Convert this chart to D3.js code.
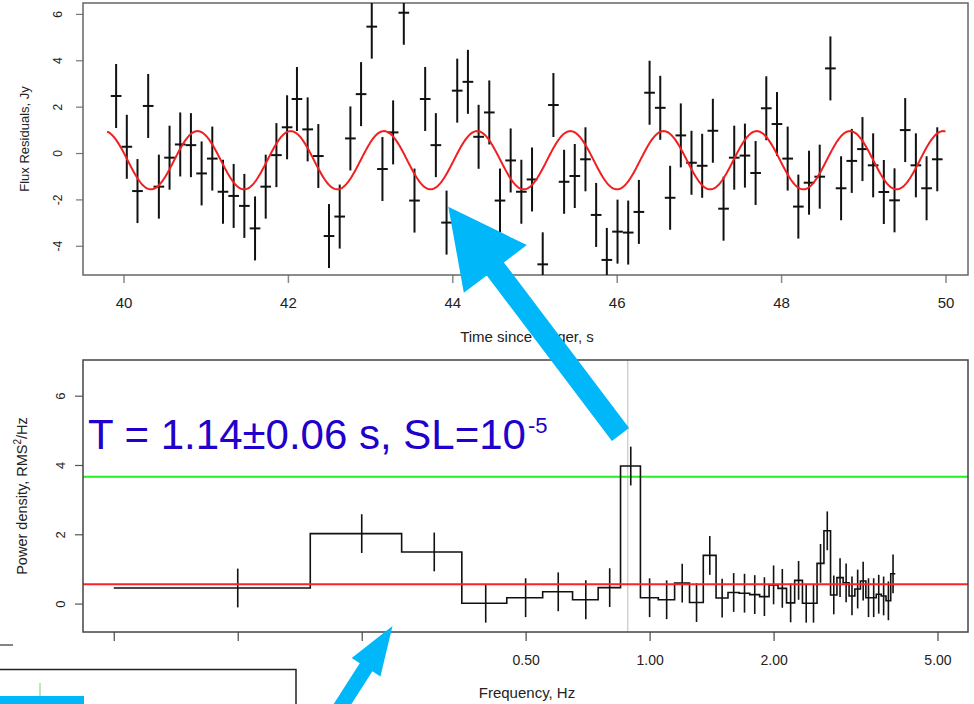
<!DOCTYPE html>
<html>
<head>
<meta charset="utf-8">
<script src="https://cdn.jsdelivr.net/npm/d3@7"></script>
<style>
  body { margin: 0; background: #fff; }
  svg { display: block; font-family: "Liberation Sans", Arial, sans-serif; }
</style>
</head>
<body>
<div id="chart"></div>
<script>
// top panel: flux residuals with error bars
const times = [39.91, 40.04, 40.17, 40.30, 40.43, 40.56, 40.69, 40.82, 40.95, 41.08,
  41.21, 41.34, 41.47, 41.60, 41.73, 41.86, 41.99, 42.11, 42.24, 42.37,
  42.50, 42.63, 42.76, 42.89, 43.02, 43.15, 43.28, 43.41, 43.54, 43.67,
  43.80, 43.93, 44.06, 44.19, 44.32, 44.45, 44.58, 44.71, 44.84, 44.97,
  45.10, 45.23, 45.36, 45.49, 45.62, 45.75, 45.88, 46.01, 46.14, 46.27,
  46.40, 46.53, 46.65, 46.78, 46.91, 47.04, 47.17, 47.30, 47.43, 47.56,
  47.69, 47.82, 47.95, 48.08, 48.21, 48.34, 48.47, 48.60, 48.73, 48.86,
  48.99, 49.12, 49.25, 49.38, 49.51, 49.64, 49.77, 49.90];
const flux = [2.46, 0.27, -1.64, 2.03, -1.45, -0.20, 0.37, 0.34, -0.88, -0.24,
  -1.67, -1.85, -2.28, -3.25, -1.45, -0.09, 1.11, 2.33, 1.02, -0.13,
  -3.58, -2.74, 0.63, 2.54, 5.45, -0.69, 0.89, 6.05, -2.05, 2.33,
  0.34, -3.00, 2.69, 3.07, 0.70, 1.75, -2.05, -0.32, -1.67, -1.14,
  -4.80, 2.07, -1.24, -0.99, -0.27, -2.67, -4.61, -3.39, -3.43, -2.54,
  2.60, 1.95, -1.93, 0.76, -0.42, -0.55, 0.96, -2.40, -0.20, -0.11,
  -0.86, 1.93, 1.25, -0.24, -2.31, -1.28, -1.02, 3.65, -1.52, -0.34,
  0.17, -0.53, -1.68, -2.04, 0.99, -0.53, -1.52, -0.27];
const fluxErr = 1.38;
const timeHalfBin = 0.065;
const timeTicks = [40, 42, 44, 46, 48, 50];
const fluxTicks = [-4, -2, 0, 2, 4, 6];

// fitted sine model (red curve)
const fitPeriod = 1.134, fitPeak = 40.90, fitAmp = 1.255, fitMean = -0.31;
const fitStart = 39.80, fitEnd = 50.0;

// bottom panel: power spectrum
const freqs = [0.1, 0.2, 0.3, 0.4, 0.5, 0.6, 0.7, 0.8, 0.9, 1.0,
  1.1, 1.2, 1.3, 1.4, 1.5, 1.6, 1.7, 1.8, 1.9, 2.0,
  2.1, 2.2, 2.3, 2.4, 2.5, 2.6, 2.7, 2.8, 2.9, 3.0,
  3.1, 3.2, 3.3, 3.4, 3.5, 3.6, 3.7, 3.8, 3.9];
const power = [0.45, 2.02, 1.49, 0.01, 0.17, 0.34, 0.11, 0.46, 3.97, 0.17,
  0.11, 0.59, 0.03, 1.39, 0.16, 0.32, 0.30, 0.26, 0.20, 0.54,
  0.44, 0.02, 0.67, 0.01, 0.01, 1.16, 2.10, 0.25, 0.75, 0.60,
  0.22, 0.42, 0.65, 0.17, 0.17, 0.27, 0.22, 0.08, 0.86];
const powerErr = 0.56;
const freqHalfBin = 0.05;
const detectLevel = 3.66, meanLevel = 0.56, peakFreq = 0.885;
const freqTicks = [0.05, 0.1, 0.2, 0.5, 1, 2, 5];
const freqLabels = [0.5, 1, 2, 5];
const powerTicks = [0, 2, 4, 6];

const svg = d3.select("#chart").append("svg")
    .attr("width", 974)
    .attr("height", 704);

const defs = svg.append("defs");

// ---------- top panel ----------
const p1 = {left: 83, right: 968, top: 3, bottom: 275};
const x1 = d3.scaleLinear().domain([39.507, 50.274]).range([p1.left, p1.right]);
const y1 = d3.scaleLinear().domain([-5.26, 6.47]).range([p1.bottom, p1.top]);

defs.append("clipPath").attr("id", "clip1")
  .append("rect")
    .attr("x", p1.left).attr("y", p1.top)
    .attr("width", p1.right - p1.left).attr("height", p1.bottom - p1.top);

svg.append("g")
    .attr("transform", `translate(0,${p1.bottom})`)
    .call(d3.axisBottom(x1).tickValues(timeTicks).tickSize(8).tickFormat(d => String(d)))
    .call(g => g.select(".domain").remove())
    .call(g => g.attr("font-size", null).attr("font-family", null))
    .call(g => g.selectAll("line").attr("stroke", "#888").attr("stroke-width", 1.5))
    .call(g => g.selectAll("text")
        .attr("y", 22)
        .attr("fill", "#222")
        .style("font-family", "'Liberation Sans Narrow', 'Liberation Sans', sans-serif")
        .style("font-size", "15px"));

svg.append("g")
    .attr("transform", `translate(${p1.left},0)`)
    .call(d3.axisLeft(y1).tickValues(fluxTicks).tickSize(7).tickFormat(d => String(d)))
    .call(g => g.select(".domain").remove())
    .call(g => g.attr("font-size", null).attr("font-family", null))
    .call(g => g.selectAll("line").attr("stroke", "#777").attr("stroke-width", 1.2))
    .call(g => g.selectAll("text")
        .attr("x", null).attr("dy", null)
        .attr("text-anchor", "middle")
        .attr("transform", "translate(-21,0) rotate(-90)")
        .attr("fill", "#222")
        .style("font-size", "12px"));

svg.append("rect")
    .attr("x", p1.left).attr("y", p1.top)
    .attr("width", p1.right - p1.left).attr("height", p1.bottom - p1.top)
    .attr("fill", "none").attr("stroke", "#666").attr("stroke-width", 1.5);

const topG = svg.append("g").attr("clip-path", "url(#clip1)");

const pts = times.map((t, i) => ({t: t, v: flux[i]}));

topG.selectAll(".ev")
  .data(pts)
  .join("line")
    .attr("x1", d => x1(d.t)).attr("x2", d => x1(d.t))
    .attr("y1", d => y1(d.v - fluxErr)).attr("y2", d => y1(d.v + fluxErr))
    .attr("stroke", "#111").attr("stroke-width", 2);

topG.selectAll(".eh")
  .data(pts)
  .join("line")
    .attr("x1", d => x1(d.t - timeHalfBin)).attr("x2", d => x1(d.t + timeHalfBin))
    .attr("y1", d => y1(d.v)).attr("y2", d => y1(d.v))
    .attr("stroke", "#111").attr("stroke-width", 2);

const model = d3.range(fitStart, fitEnd + 0.001, 0.01)
  .map(t => [t, fitMean + fitAmp * Math.cos(2 * Math.PI * (t - fitPeak) / fitPeriod)]);

topG.append("path")
    .datum(model)
    .attr("d", d3.line().x(d => x1(d[0])).y(d => y1(d[1])))
    .attr("fill", "none").attr("stroke", "#f02020").attr("stroke-width", 2);

svg.append("text")
    .attr("x", 527).attr("y", 342)
    .attr("text-anchor", "middle")
    .attr("fill", "#222")
    .style("font-family", "'Liberation Sans Narrow', 'Liberation Sans', sans-serif")
    .style("font-size", "15px")
    .text("Time since trigger, s");

svg.append("text")
    .attr("transform", "translate(29,139) rotate(-90)")
    .attr("text-anchor", "middle")
    .attr("fill", "#222")
    .style("font-size", "13px")
    .text("Flux Residuals, Jy");

// ---------- bottom panel ----------
const p2 = {left: 83, right: 968, top: 360, bottom: 632};
const x2 = d3.scaleLog().domain([0.0421, 5.93]).range([p2.left, p2.right]);
const y2 = d3.scaleLinear().domain([-0.82, 7.03]).range([p2.bottom, p2.top]);

defs.append("clipPath").attr("id", "clip2")
  .append("rect")
    .attr("x", p2.left).attr("y", p2.top)
    .attr("width", p2.right - p2.left).attr("height", p2.bottom - p2.top);

svg.append("g")
    .attr("transform", `translate(0,${p2.bottom})`)
    .call(d3.axisBottom(x2).tickValues(freqTicks).tickSize(9)
        .tickFormat(d => freqLabels.includes(d) ? d3.format(".2f")(d) : ""))
    .call(g => g.select(".domain").remove())
    .call(g => g.attr("font-size", null).attr("font-family", null))
    .call(g => g.selectAll("line").attr("stroke", "#555").attr("stroke-width", 1.3))
    .call(g => g.selectAll("text")
        .attr("y", 23)
        .attr("fill", "#222")
        .style("font-size", "14px"));

svg.append("g")
    .attr("transform", `translate(${p2.left},0)`)
    .call(d3.axisLeft(y2).tickValues(powerTicks).tickSize(8).tickFormat(d => String(d)))
    .call(g => g.select(".domain").remove())
    .call(g => g.attr("font-size", null).attr("font-family", null))
    .call(g => g.selectAll("line").attr("stroke", "#555").attr("stroke-width", 1.2))
    .call(g => g.selectAll("text")
        .attr("x", null).attr("dy", null)
        .attr("text-anchor", "middle")
        .attr("transform", "translate(-18,0) rotate(-90)")
        .attr("fill", "#222")
        .style("font-size", "13px"));

const botG = svg.append("g").attr("clip-path", "url(#clip2)");

botG.append("line")
    .attr("x1", x2(peakFreq)).attr("x2", x2(peakFreq))
    .attr("y1", p2.top).attr("y2", p2.bottom)
    .attr("stroke", "#c8c8c8").attr("stroke-width", 1.2);

botG.append("line")
    .attr("x1", p2.left).attr("x2", p2.right)
    .attr("y1", y2(detectLevel)).attr("y2", y2(detectLevel))
    .attr("stroke", "#22ee22").attr("stroke-width", 2);

const bins = freqs.map((f, i) => ({f: f, p: power[i]}));
const stepPts = bins.map(d => [d.f - freqHalfBin, d.p]);
stepPts.push([bins[bins.length - 1].f + freqHalfBin, bins[bins.length - 1].p]);

botG.append("path")
    .datum(stepPts)
    .attr("d", d3.line().x(d => x2(d[0])).y(d => y2(d[1])).curve(d3.curveStepAfter))
    .attr("fill", "none").attr("stroke", "#111").attr("stroke-width", 1.6);

botG.selectAll(".pe")
  .data(bins)
  .join("line")
    .attr("x1", d => x2(d.f)).attr("x2", d => x2(d.f))
    .attr("y1", d => y2(d.p - powerErr)).attr("y2", d => y2(d.p + powerErr))
    .attr("stroke", "#111").attr("stroke-width", 1.6);

botG.append("line")
    .attr("x1", p2.left).attr("x2", p2.right)
    .attr("y1", y2(meanLevel)).attr("y2", y2(meanLevel))
    .attr("stroke", "#f22").attr("stroke-width", 2);

svg.append("rect")
    .attr("x", p2.left).attr("y", p2.top)
    .attr("width", p2.right - p2.left).attr("height", p2.bottom - p2.top)
    .attr("fill", "none").attr("stroke", "#444").attr("stroke-width", 1.5);

svg.append("text")
    .attr("x", 527).attr("y", 698)
    .attr("text-anchor", "middle")
    .attr("fill", "#222")
    .style("font-size", "15px")
    .text("Frequency, Hz");

const ylab = svg.append("text")
    .attr("transform", "translate(27,496) rotate(-90)")
    .attr("text-anchor", "middle")
    .attr("fill", "#222")
    .style("font-size", "14.5px");
ylab.append("tspan").text("Power density, RMS");
ylab.append("tspan").attr("dy", -6).style("font-size", "10px").text("2");
ylab.append("tspan").attr("dy", 6).text("/Hz");

// ---------- annotations ----------
const note = svg.append("text")
    .attr("x", 88).attr("y", 449)
    .attr("fill", "#2200cc")
    .style("font-size", "42px");
note.append("tspan").text("T = 1.14\u00b10.06 s, SL=10");
note.append("tspan").attr("dx", 2).attr("dy", -16).style("font-size", "22px").text("-5");

// fragments of a neighbouring figure at the lower left
svg.append("line").attr("x1", 0).attr("x2", 13).attr("y1", 645).attr("y2", 645)
    .attr("stroke", "#333").attr("stroke-width", 1.2);
svg.append("path").attr("d", "M0,669.5H296V704")
    .attr("fill", "none").attr("stroke", "#222").attr("stroke-width", 1.5);
svg.append("line").attr("x1", 40).attr("x2", 40).attr("y1", 683).attr("y2", 697)
    .attr("stroke", "#a6e0a0").attr("stroke-width", 1.5);
svg.append("rect").attr("x", 0).attr("y", 696).attr("width", 84).attr("height", 8)
    .attr("fill", "#00b7fa");

// cyan arrows
function arrow(tail, tip, shaft, headLen, headW) {
  const dx = tip[0] - tail[0], dy = tip[1] - tail[1];
  const len = Math.hypot(dx, dy);
  const ux = dx / len, uy = dy / len, px = -uy, py = ux;
  const bx = tip[0] - ux * headLen, by = tip[1] - uy * headLen;
  const p = [
    [tail[0] + px * shaft / 2, tail[1] + py * shaft / 2],
    [bx + px * shaft / 2, by + py * shaft / 2],
    [bx + px * headW / 2, by + py * headW / 2],
    tip,
    [bx - px * headW / 2, by - py * headW / 2],
    [bx - px * shaft / 2, by - py * shaft / 2],
    [tail[0] - px * shaft / 2, tail[1] - py * shaft / 2]
  ];
  return "M" + p.map(d => d.join(",")).join("L") + "Z";
}

svg.append("path")
    .attr("d", arrow([620.5, 434.5], [448.3, 206.7], 21.5, 78, 79))
    .attr("fill", "#00b7fa");

svg.append("path")
    .attr("d", arrow([340, 708], [392.5, 626], 15, 49, 34))
    .attr("fill", "#00b7fa");
</script>
</body>
</html>
